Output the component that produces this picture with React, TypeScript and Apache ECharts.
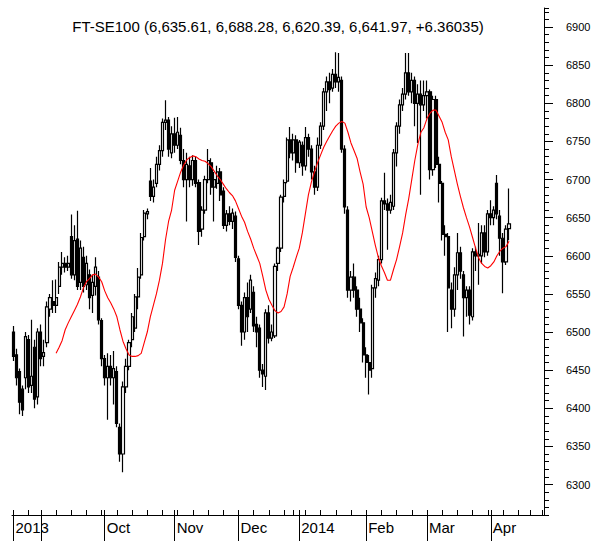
import React, { useEffect, useRef } from 'react';
import * as echarts from 'echarts';

const TITLE = 'FT-SE100 (6,635.61, 6,688.28, 6,620.39, 6,641.97, +6.36035)';
const START_DATE = '2013-08-19';
const HOLIDAYS = ['2013-08-26', '2013-12-25', '2013-12-26', '2014-01-01', '2014-04-18', '2014-04-21'];
const AXIS_DAYS = 175;
const MONTH_NAMES = ['Jan', 'Feb', 'Mar', 'Apr', 'May', 'Jun', 'Jul', 'Aug', 'Sep', 'Oct', 'Nov', 'Dec'];

const Y_MIN = 6260;
const Y_MAX = 6925;
const Y_LABEL_MIN = 6300;
const Y_LABEL_MAX = 6900;

const OPEN = [
  6500, 6470, 6448, 6425, 6440, 6490, 6430, 6480, 6415, 6500,
  6468, 6486, 6530, 6540, 6535, 6560, 6585, 6590, 6585, 6625,
  6575, 6622, 6565, 6598, 6562, 6575, 6548, 6560, 6572, 6515,
  6465, 6440, 6455, 6440, 6448, 6375, 6340, 6428, 6455, 6490,
  6505, 6546, 6575, 6625, 6655, 6698, 6678, 6695, 6720, 6738,
  6775, 6778, 6735, 6760, 6745, 6758, 6725, 6700, 6718, 6700,
  6725, 6696, 6635, 6660, 6700, 6722, 6690, 6695, 6710, 6685,
  6640, 6655, 6645, 6652, 6596, 6535, 6500, 6545, 6530, 6552,
  6510, 6505, 6450, 6442, 6525, 6492, 6495, 6590, 6610, 6678,
  6698, 6752, 6735, 6752, 6722, 6745, 6718, 6755, 6740, 6710,
  6690, 6745, 6770, 6815, 6828, 6820, 6838, 6828, 6830, 6740,
  6660, 6555, 6572, 6555, 6530, 6512, 6470, 6460, 6452, 6558,
  6568, 6595, 6672, 6668, 6660, 6665, 6735, 6770, 6798, 6812,
  6840, 6815, 6830, 6800, 6812, 6798, 6810, 6815, 6713, 6805,
  6720, 6695, 6628, 6625, 6555, 6530, 6575, 6604, 6575, 6545,
  6555, 6520, 6605, 6600, 6600, 6630, 6605, 6655, 6650, 6695,
  6652, 6623, 6592, 6635.61,
];
const HIGH = [
  6508, 6478, 6452, 6430, 6500, 6496, 6516, 6490, 6505, 6510,
  6490, 6540, 6550, 6568, 6569, 6592, 6605, 6598, 6600, 6654,
  6640, 6659, 6620, 6612, 6600, 6582, 6575, 6598, 6580, 6518,
  6470, 6472, 6470, 6475, 6455, 6380, 6435, 6465, 6490, 6525,
  6550, 6584, 6630, 6660, 6662, 6715, 6700, 6730, 6745, 6780,
  6804, 6782, 6770, 6781, 6782, 6768, 6740, 6735, 6730, 6732,
  6730, 6700, 6665, 6705, 6740, 6728, 6710, 6718, 6715, 6690,
  6660, 6665, 6662, 6658, 6600, 6540, 6552, 6565, 6575, 6560,
  6520, 6510, 6458, 6530, 6535, 6510, 6590, 6612, 6680, 6700,
  6755, 6769, 6760, 6758, 6752, 6750, 6769, 6760, 6745, 6718,
  6755, 6775, 6820, 6835, 6840, 6845, 6867, 6866, 6835, 6745,
  6665, 6580, 6590, 6560, 6545, 6518, 6480, 6470, 6562, 6578,
  6600, 6676, 6709, 6675, 6680, 6740, 6775, 6805, 6820, 6866,
  6866, 6840, 6835, 6825, 6830, 6830, 6830, 6818, 6810, 6810,
  6730, 6698, 6640, 6630, 6565, 6585, 6630, 6612, 6580, 6560,
  6560, 6610, 6612, 6643, 6640, 6640, 6660, 6673, 6665, 6706,
  6660, 6630, 6640, 6688.28,
];
const LOW = [
  6462, 6430, 6392, 6390, 6425, 6420, 6420, 6400, 6405, 6455,
  6455, 6480, 6520, 6525, 6525, 6550, 6575, 6578, 6580, 6570,
  6568, 6555, 6555, 6552, 6555, 6530, 6525, 6548, 6510, 6455,
  6430, 6385, 6430, 6405, 6375, 6330, 6316, 6420, 6450, 6480,
  6500, 6530, 6570, 6620, 6648, 6672, 6670, 6690, 6712, 6730,
  6765, 6730, 6728, 6735, 6740, 6720, 6690, 6645, 6690, 6692,
  6690, 6614, 6625, 6655, 6695, 6680, 6645, 6688, 6672, 6635,
  6632, 6640, 6635, 6592, 6530, 6482, 6490, 6500, 6525, 6500,
  6480, 6440, 6428, 6424, 6485, 6488, 6492, 6580, 6605, 6670,
  6695, 6728, 6725, 6709, 6715, 6705, 6712, 6730, 6700, 6680,
  6685, 6740, 6765, 6790, 6800, 6815, 6820, 6815, 6735, 6655,
  6545, 6540, 6545, 6520, 6500, 6460, 6440, 6418, 6440, 6545,
  6560, 6590, 6660, 6608, 6655, 6660, 6717, 6760, 6790, 6805,
  6810, 6800, 6770, 6748, 6680, 6790, 6780, 6700, 6705, 6715,
  6670, 6620, 6600, 6500, 6505, 6520, 6555, 6570, 6494, 6520,
  6510, 6515, 6580, 6562, 6590, 6598, 6600, 6640, 6640, 6648,
  6600, 6551, 6588, 6620.39,
];
const CLOSE = [
  6468, 6440, 6408, 6398, 6494, 6428, 6442, 6412, 6500, 6465,
  6473, 6533, 6545, 6535, 6545, 6585, 6590, 6585, 6590, 6575,
  6620, 6560, 6610, 6560, 6590, 6545, 6565, 6585, 6516, 6465,
  6440, 6455, 6440, 6452, 6380, 6340, 6428, 6455, 6486, 6520,
  6546, 6572, 6624, 6656, 6658, 6678, 6690, 6720, 6738, 6775,
  6778, 6740, 6760, 6745, 6762, 6725, 6700, 6720, 6700, 6725,
  6695, 6632, 6660, 6700, 6725, 6690, 6700, 6710, 6680, 6640,
  6655, 6645, 6656, 6598, 6535, 6500, 6545, 6520, 6568, 6508,
  6500, 6450, 6445, 6525, 6492, 6500, 6586, 6610, 6677, 6696,
  6752, 6735, 6752, 6722, 6749, 6718, 6755, 6740, 6710, 6690,
  6745, 6770, 6815, 6828, 6818, 6838, 6828, 6834, 6740, 6664,
  6555, 6572, 6555, 6530, 6512, 6470, 6460, 6450, 6558, 6570,
  6595, 6672, 6668, 6660, 6670, 6735, 6770, 6798, 6812, 6840,
  6815, 6830, 6800, 6812, 6798, 6810, 6815, 6713, 6805, 6720,
  6695, 6628, 6625, 6558, 6530, 6575, 6604, 6580, 6545, 6555,
  6522, 6605, 6600, 6602, 6630, 6605, 6655, 6650, 6660, 6655,
  6623, 6592, 6635, 6641.97,
];
const MOVING_AVG = [
  null, null, null, null, null, null, null, null, null, null,
  null, null, null, null,
  6472, 6480, 6489, 6503, 6512, 6520, 6528, 6536, 6546, 6558,
  6566, 6570, 6575, 6576, 6572, 6566, 6554, 6545, 6538, 6530,
  6520, 6503, 6488, 6478, 6470, 6468, 6468, 6469, 6472, 6486,
  6500, 6520, 6535, 6550, 6568, 6590, 6621, 6645, 6660, 6686,
  6698, 6710, 6719, 6726, 6729, 6731, 6730, 6727, 6725, 6724,
  6721, 6717, 6711, 6705, 6700, 6694, 6688, 6683, 6679, 6672,
  6662, 6652, 6644, 6632, 6622, 6610, 6600, 6590, 6573, 6555,
  6543, 6535, 6528, 6525, 6527, 6533, 6550, 6573, 6585, 6598,
  6610, 6630, 6655, 6680, 6697, 6710, 6722, 6732, 6742, 6750,
  6757, 6764, 6770, 6774, 6776, 6774, 6762, 6748, 6738, 6728,
  6710, 6694, 6664, 6650, 6632, 6614, 6598, 6587, 6578, 6568,
  6568, 6582, 6595, 6612, 6630, 6654, 6675, 6700, 6725, 6746,
  6762, 6768, 6780, 6787, 6791, 6791, 6783, 6775, 6762, 6752,
  6730, 6712, 6694, 6678, 6663, 6650, 6638, 6624, 6610, 6597,
  6590, 6586, 6584, 6587, 6592, 6600, 6606, 6610, 6612, 6619,
];

function tradingDays(start: string, n: number, holidays: string[]): string[] {
  const out: string[] = [];
  const d = new Date(start + 'T00:00:00Z');
  while (out.length < n) {
    const wd = d.getUTCDay();
    const s = d.toISOString().slice(0, 10);
    if (wd !== 0 && wd !== 6 && holidays.indexOf(s) < 0) out.push(s);
    d.setUTCDate(d.getUTCDate() + 1);
  }
  return out;
}

const FONT = '"Liberation Sans", Arial, Helvetica, sans-serif';

export default function App() {
  const ref = useRef<HTMLDivElement>(null);
  useEffect(() => {
    if (!ref.current) return;
    const chart = echarts.init(ref.current, undefined, { renderer: 'svg' });

    const dates = tradingDays(START_DATE, AXIS_DAYS, HOLIDAYS);
    const dObj = dates.map((s) => new Date(s + 'T00:00:00Z'));
    const monthStart = dObj.map((d, i) => i === 0 || d.getUTCMonth() !== dObj[i - 1].getUTCMonth());
    const weekStart = dObj.map((d, i) => i > 0 && d.getUTCDay() < dObj[i - 1].getUTCDay());
    const labels: string[] = [];
    let lastLabel = -100;
    dObj.forEach((d, i) => {
      let t = '';
      if (monthStart[i] && i - lastLabel > 15) {
        const m = d.getUTCMonth();
        t = i === 0 || m === 0 ? String(d.getUTCFullYear()) : MONTH_NAMES[m];
        lastLabel = i;
      }
      labels.push(t);
    });

    const candles = OPEN.map((o, i) => [o, CLOSE[i], LOW[i], HIGH[i]]);

    const gridTop = 8;
    const gridBottomY = 515;
    const gridLeft = 12;
    const gridRight = 58;
    const k = (gridBottomY - gridTop) / (Y_MAX - Y_MIN);
    const g2Top = gridTop + (Y_MAX - Y_LABEL_MAX) * k;
    const g2Height = (Y_LABEL_MAX - Y_LABEL_MIN) * k;

    chart.setOption({
      animation: false,
      backgroundColor: '#ffffff',
      grid: [
        { left: gridLeft, right: gridRight, top: gridTop, height: gridBottomY - gridTop, containLabel: false },
        { left: gridLeft, right: gridRight, top: g2Top, height: g2Height, containLabel: false },
      ],
      graphic: [
        {
          type: 'text',
          x: gridLeft + (602 - gridLeft - gridRight) / 2,
          y: 26,
          style: {
            text: TITLE,
            fontSize: 15,
            fontFamily: FONT,
            fill: '#000',
            textAlign: 'center',
            textVerticalAlign: 'middle',
          },
        },
      ],
      xAxis: [
        {
          type: 'category',
          gridIndex: 0,
          data: dates,
          boundaryGap: true,
          position: 'bottom',
          axisLine: { show: true, onZero: false, lineStyle: { color: '#000', width: 1 } },
          axisTick: {
            show: true,
            inside: true,
            length: 5,
            alignWithLabel: true,
            interval: (i: number) => weekStart[i] || monthStart[i],
            lineStyle: { color: '#000', width: 1 },
          },
          axisLabel: { show: false },
          splitLine: { show: false },
        },
        {
          type: 'category',
          gridIndex: 0,
          data: dates,
          boundaryGap: true,
          position: 'bottom',
          axisLine: { show: false, onZero: false },
          axisTick: {
            show: true,
            inside: false,
            length: 28,
            alignWithLabel: true,
            interval: (i: number) => monthStart[i],
            lineStyle: { color: '#000', width: 1 },
          },
          axisLabel: {
            show: true,
            interval: (i: number) => labels[i] !== '',
            formatter: (_v: string, i: number) => labels[i],
            align: 'left',
            verticalAlign: 'top',
            margin: 5,
            padding: [0, 0, 0, 2],
            fontSize: 15,
            fontFamily: FONT,
            color: '#000',
          },
          splitLine: { show: false },
        },
        { type: 'value', gridIndex: 1, show: false, min: 0, max: 1 },
      ],
      yAxis: [
        {
          type: 'value',
          gridIndex: 0,
          position: 'right',
          min: Y_MIN,
          max: Y_MAX,
          interval: 10,
          axisLine: { show: true, onZero: false, lineStyle: { color: '#000', width: 1 } },
          axisTick: { show: true, inside: false, length: 5, lineStyle: { color: '#000', width: 1 } },
          axisLabel: { show: false },
          splitLine: { show: false },
        },
        {
          type: 'value',
          gridIndex: 1,
          position: 'right',
          min: Y_LABEL_MIN,
          max: Y_LABEL_MAX,
          interval: 50,
          axisLine: { show: false, onZero: false },
          axisTick: { show: true, inside: false, length: 9, lineStyle: { color: '#000', width: 1 } },
          axisLabel: {
            show: true,
            margin: 22,
            fontSize: 11,
            fontFamily: FONT,
            color: '#000',
            formatter: (v: number) => String(v),
          },
          splitLine: { show: false },
        },
      ],
      series: [
        {
          type: 'candlestick',
          xAxisIndex: 0,
          yAxisIndex: 0,
          data: candles,
          barWidth: 2.6,
          itemStyle: {
            color: '#ffffff',
            color0: '#000000',
            borderColor: '#000000',
            borderColor0: '#000000',
            borderColorDoji: '#000000',
            borderWidth: 1.2,
          },
        },
        {
          type: 'line',
          xAxisIndex: 0,
          yAxisIndex: 0,
          data: MOVING_AVG,
          symbol: 'none',
          connectNulls: false,
          lineStyle: { color: '#ff0000', width: 1.1 },
          z: 5,
        },
      ],
    });
    return () => chart.dispose();
  }, []);
  return <div ref={ref} style={{ position: 'absolute', left: 0, top: 0, width: 602, height: 541 }} />;
}
